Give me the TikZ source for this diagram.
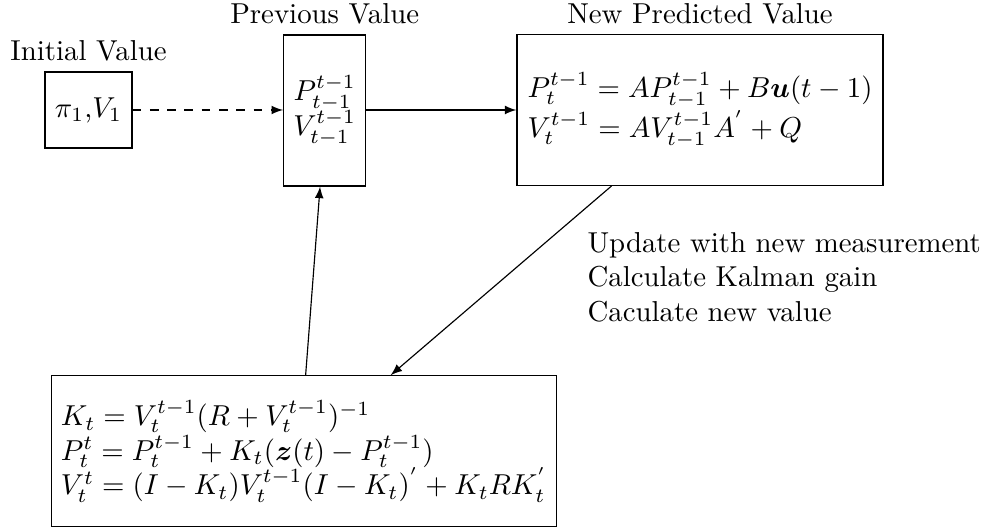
\documentclass[tikz,border=0pt]{standalone}
\usepackage{amsmath,amsbsy}
\usetikzlibrary{calc,arrows}
\def\px{0.347pt}
\begin{document}
\begin{tikzpicture}[x=\px, y=-\px, >=latex,
  box/.style={draw, align=left},
  tight/.style={font={\lineskip=0pt\lineskiplimit=0pt}},
  note/.style={anchor=west, inner sep=0pt, align=left}]
\useasboundingbox (0,0) rectangle (984,532);
\node[box, minimum width=87*\px, minimum height=76*\px, label=above:Initial Value] (init) at (88.5,110) {$\pi_1$,$V_1$};
\node[box, tight, align=center, minimum width=82*\px, minimum height=151*\px, label={[font=]above:Previous Value}] (prev) at (324.7,110.5) {$P_{t-1}^{t-1}$\\$V_{t-1}^{t-1}$};
\node[box, minimum width=366*\px, minimum height=151*\px, label=above:New Predicted Value] (new) at (700,110) {$P_t^{t-1} = AP_{t-1}^{t-1} + B\boldsymbol{u}(t-1)$\\$V_t^{t-1} = AV_{t-1}^{t-1}A^{'} + Q$};
\node[box, minimum width=501*\px, minimum height=151*\px] (bot) at (303.8,451.3) {$K_t = V_t^{t-1}(R + V_t^{t-1})^{-1}$\\$P_t^t = P_t^{t-1} + K_t(\boldsymbol{z}(t) - P_t^{t-1})$\\$V_t^t = (I-K_t)V_t^{t-1}(I-K_t)^{'} + K_tRK_t^{'}$};
\node[note] (txt) at (587,277) {Update with new measurement\\Calculate Kalman gain\\Caculate new value};
\draw[->, dashed] (init.east) -- (init.east -| prev.west);
\draw[->] (prev.east |- init.east) -- (init.east -| new.west);
\draw[->] ($(new.south west)+(95,0)$) -- ($(bot.north west)+(340,0)$);
\draw[->] ($(bot.north west)+(255,0)$) -- ($(prev.south west)+(37,0)$);
\end{tikzpicture}
\end{document}
